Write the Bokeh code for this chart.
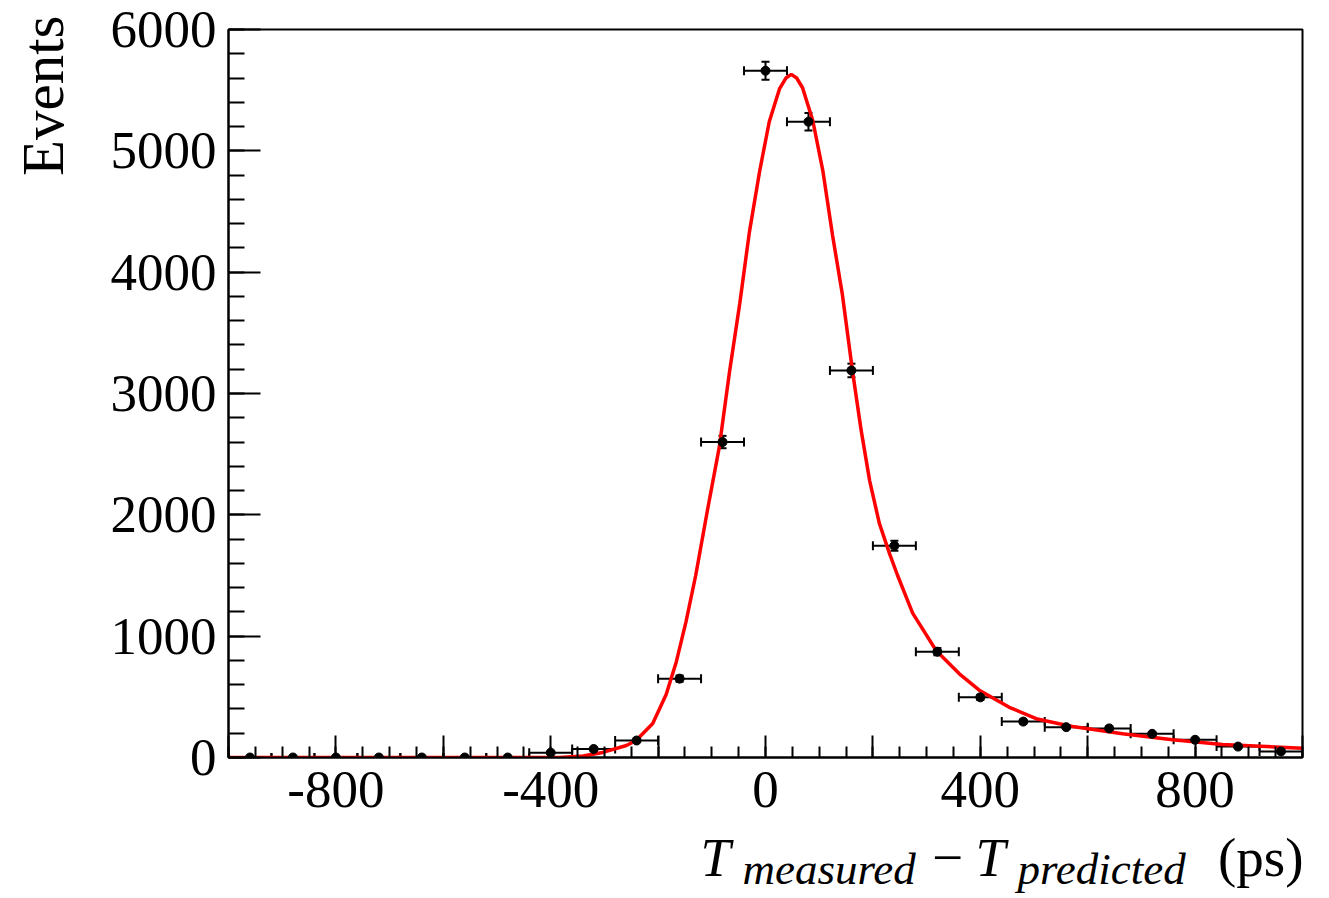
import math
from bokeh.plotting import figure
from bokeh.layouts import row, column
from bokeh.models import ColumnDataSource, Whisker, TeeHead, Range1d, FixedTicker, Label
from bokeh.embed import file_html
from bokeh.resources import INLINE

# ---- data ----
bin_centers = [-960, -880, -800, -720, -640, -560, -480, -400, -320, -240, -160, -80,
               0, 80, 160, 240, 320, 400, 480, 560, 640, 720, 800, 880, 960]
counts = [0, 0, 0, 0, 0, 0, 0, 40, 70, 140, 650, 2600,
          5660, 5240, 3190, 1745, 872, 496, 296, 250, 240, 195, 146, 90, 50]
count_errors = [0, 0, 0, 0, 0, 0, 0, 6, 8, 12, 25, 51,
                75, 72, 56, 42, 30, 22, 17, 16, 16, 14, 12, 9, 7]
bin_width = 80

fit_x = [-1000, -400, -383, -340, -303, -259, -241, -210, -185, -166, -148, -130, -108,
         -86, -67, -48, -30, -11, 7, 26, 38, 48, 58, 69, 88, 107, 125, 143, 162, 178,
         194, 212, 231, 246, 274, 318, 361, 398, 454, 504, 547, 572, 665, 758, 851, 1000]
fit_y = [0, 0, 1, 12, 42, 99, 140, 280, 520, 790, 1120, 1500, 2040,
         2560, 3180, 3740, 4330, 4830, 5240, 5510, 5600, 5630, 5600, 5520, 5250, 4830,
         4300, 3820, 3185, 2700, 2280, 1930, 1680, 1500, 1190, 880, 690, 555, 414, 320,
         278, 255, 195, 146, 107, 77]

x_major = list(range(-1000, 1001, 200))
x_minor = list(range(-1000, 1001, 50))
x_labels = {-800: "-800", -400: "-400", 0: "0", 400: "400", 800: "800"}
y_major = list(range(0, 6001, 1000))
y_minor = list(range(0, 6001, 200))

FONT = "Liberation Serif"
LEFT_W = 80          # width of the strip holding the y title
MAIN_W = 1241
MAIN_H = 836
TITLE_H = 62
TOTAL_H = MAIN_H + TITLE_H

p = figure(width=MAIN_W, height=MAIN_H, output_backend="svg", toolbar_location=None,
           x_range=Range1d(-1000, 1000), y_range=Range1d(0, 6000),
           min_border_left=228 - LEFT_W, min_border_right=19, min_border_top=29,
           min_border_bottom=MAIN_H - 757)
p.frame_align = False
p.xgrid.visible = False
p.ygrid.visible = False
p.outline_line_color = "black"
p.outline_line_width = 2
p.background_fill_color = "white"
p.border_fill_color = "white"

# axes
p.xaxis.ticker = FixedTicker(ticks=x_major, minor_ticks=x_minor)
p.xaxis.major_label_overrides = {t: x_labels.get(t, "") for t in x_major}
p.yaxis.ticker = FixedTicker(ticks=y_major, minor_ticks=y_minor)
for ax, maj, mnr in ((p.xaxis, 22, 11), (p.yaxis, 32, 16)):
    ax.major_tick_in = maj
    ax.major_tick_out = 0
    ax.minor_tick_in = mnr
    ax.minor_tick_out = 0
    ax.axis_line_width = 2
    ax.major_tick_line_width = 2
    ax.minor_tick_line_width = 2
    ax.axis_line_color = "black"
    ax.major_tick_line_color = "black"
    ax.minor_tick_line_color = "black"
    ax.major_label_text_font = FONT
    ax.major_label_text_font_size = "53px"
    ax.major_label_text_color = "black"
p.xaxis.major_label_standoff = 14
p.yaxis.major_label_standoff = 12

# data
half = bin_width / 2
src = ColumnDataSource(dict(
    x=bin_centers, y=counts,
    xl=[c - half for c in bin_centers], xu=[c + half for c in bin_centers],
))
nz = [i for i, e in enumerate(count_errors) if e > 0]
src_v = ColumnDataSource(dict(
    x=[bin_centers[i] for i in nz],
    yl=[counts[i] - count_errors[i] for i in nz],
    yu=[counts[i] + count_errors[i] for i in nz],
))

hw = Whisker(base="y", lower="xl", upper="xu", dimension="width", source=src,
             line_color="black", line_width=2,
             lower_head=TeeHead(size=9, line_color="black", line_width=2),
             upper_head=TeeHead(size=9, line_color="black", line_width=2))
vw = Whisker(base="x", lower="yl", upper="yu", dimension="height", source=src_v,
             line_color="black", line_width=2,
             lower_head=TeeHead(size=8, line_color="black", line_width=2),
             upper_head=TeeHead(size=8, line_color="black", line_width=2))
p.add_layout(hw)
p.add_layout(vw)

p.line(fit_x, fit_y, line_color="#ff0000", line_width=3.5)
p.scatter("x", "y", source=src, size=9, color="black")


def blank(w, h):
    f = figure(width=w, height=h, output_backend="svg", toolbar_location=None,
               x_range=Range1d(0, 1), y_range=Range1d(0, 1),
               x_axis_location=None, y_axis_location=None, min_border=0)
    f.frame_align = False
    f.xgrid.visible = False
    f.ygrid.visible = False
    f.outline_line_color = None
    f.background_fill_color = "white"
    f.border_fill_color = "white"
    return f


def lab(fig, text, x, y, size, style="italic", align="left", angle=0.0):
    fig.add_layout(Label(x=x, y=y, x_units="screen", y_units="screen", text=text,
                         text_font=FONT, text_font_size=size, text_font_style=style,
                         text_color="black", text_align=align, text_baseline="middle",
                         angle=angle))


# y-axis title strip (x measured from the page's left edge)
pl = blank(LEFT_W, TOTAL_H)
lab(pl, "Events", 42, TOTAL_H - 15, "59px", style="normal", align="right",
    angle=math.pi / 2)

# x-axis title strip (x measured from the strip's left edge at LEFT_W)
pt = blank(MAIN_W, TITLE_H)
ox = 70 - LEFT_W
lab(pt, "T", 630 + ox, 41, "54px")
lab(pt, "measured", 672 + ox, 30, "45px")
lab(pt, "\u2212", 877 + ox, 41, "55px", style="normal", align="center")
lab(pt, "T", 905 + ox, 41, "54px")
lab(pt, "predicted", 947 + ox, 30, "45px")
lab(pt, "(ps)", 1233 + ox, 41, "55px", style="normal", align="right")

layout = row(pl, column(p, pt, spacing=0), spacing=0)

open("out.html", "w").write(file_html(layout, INLINE))
